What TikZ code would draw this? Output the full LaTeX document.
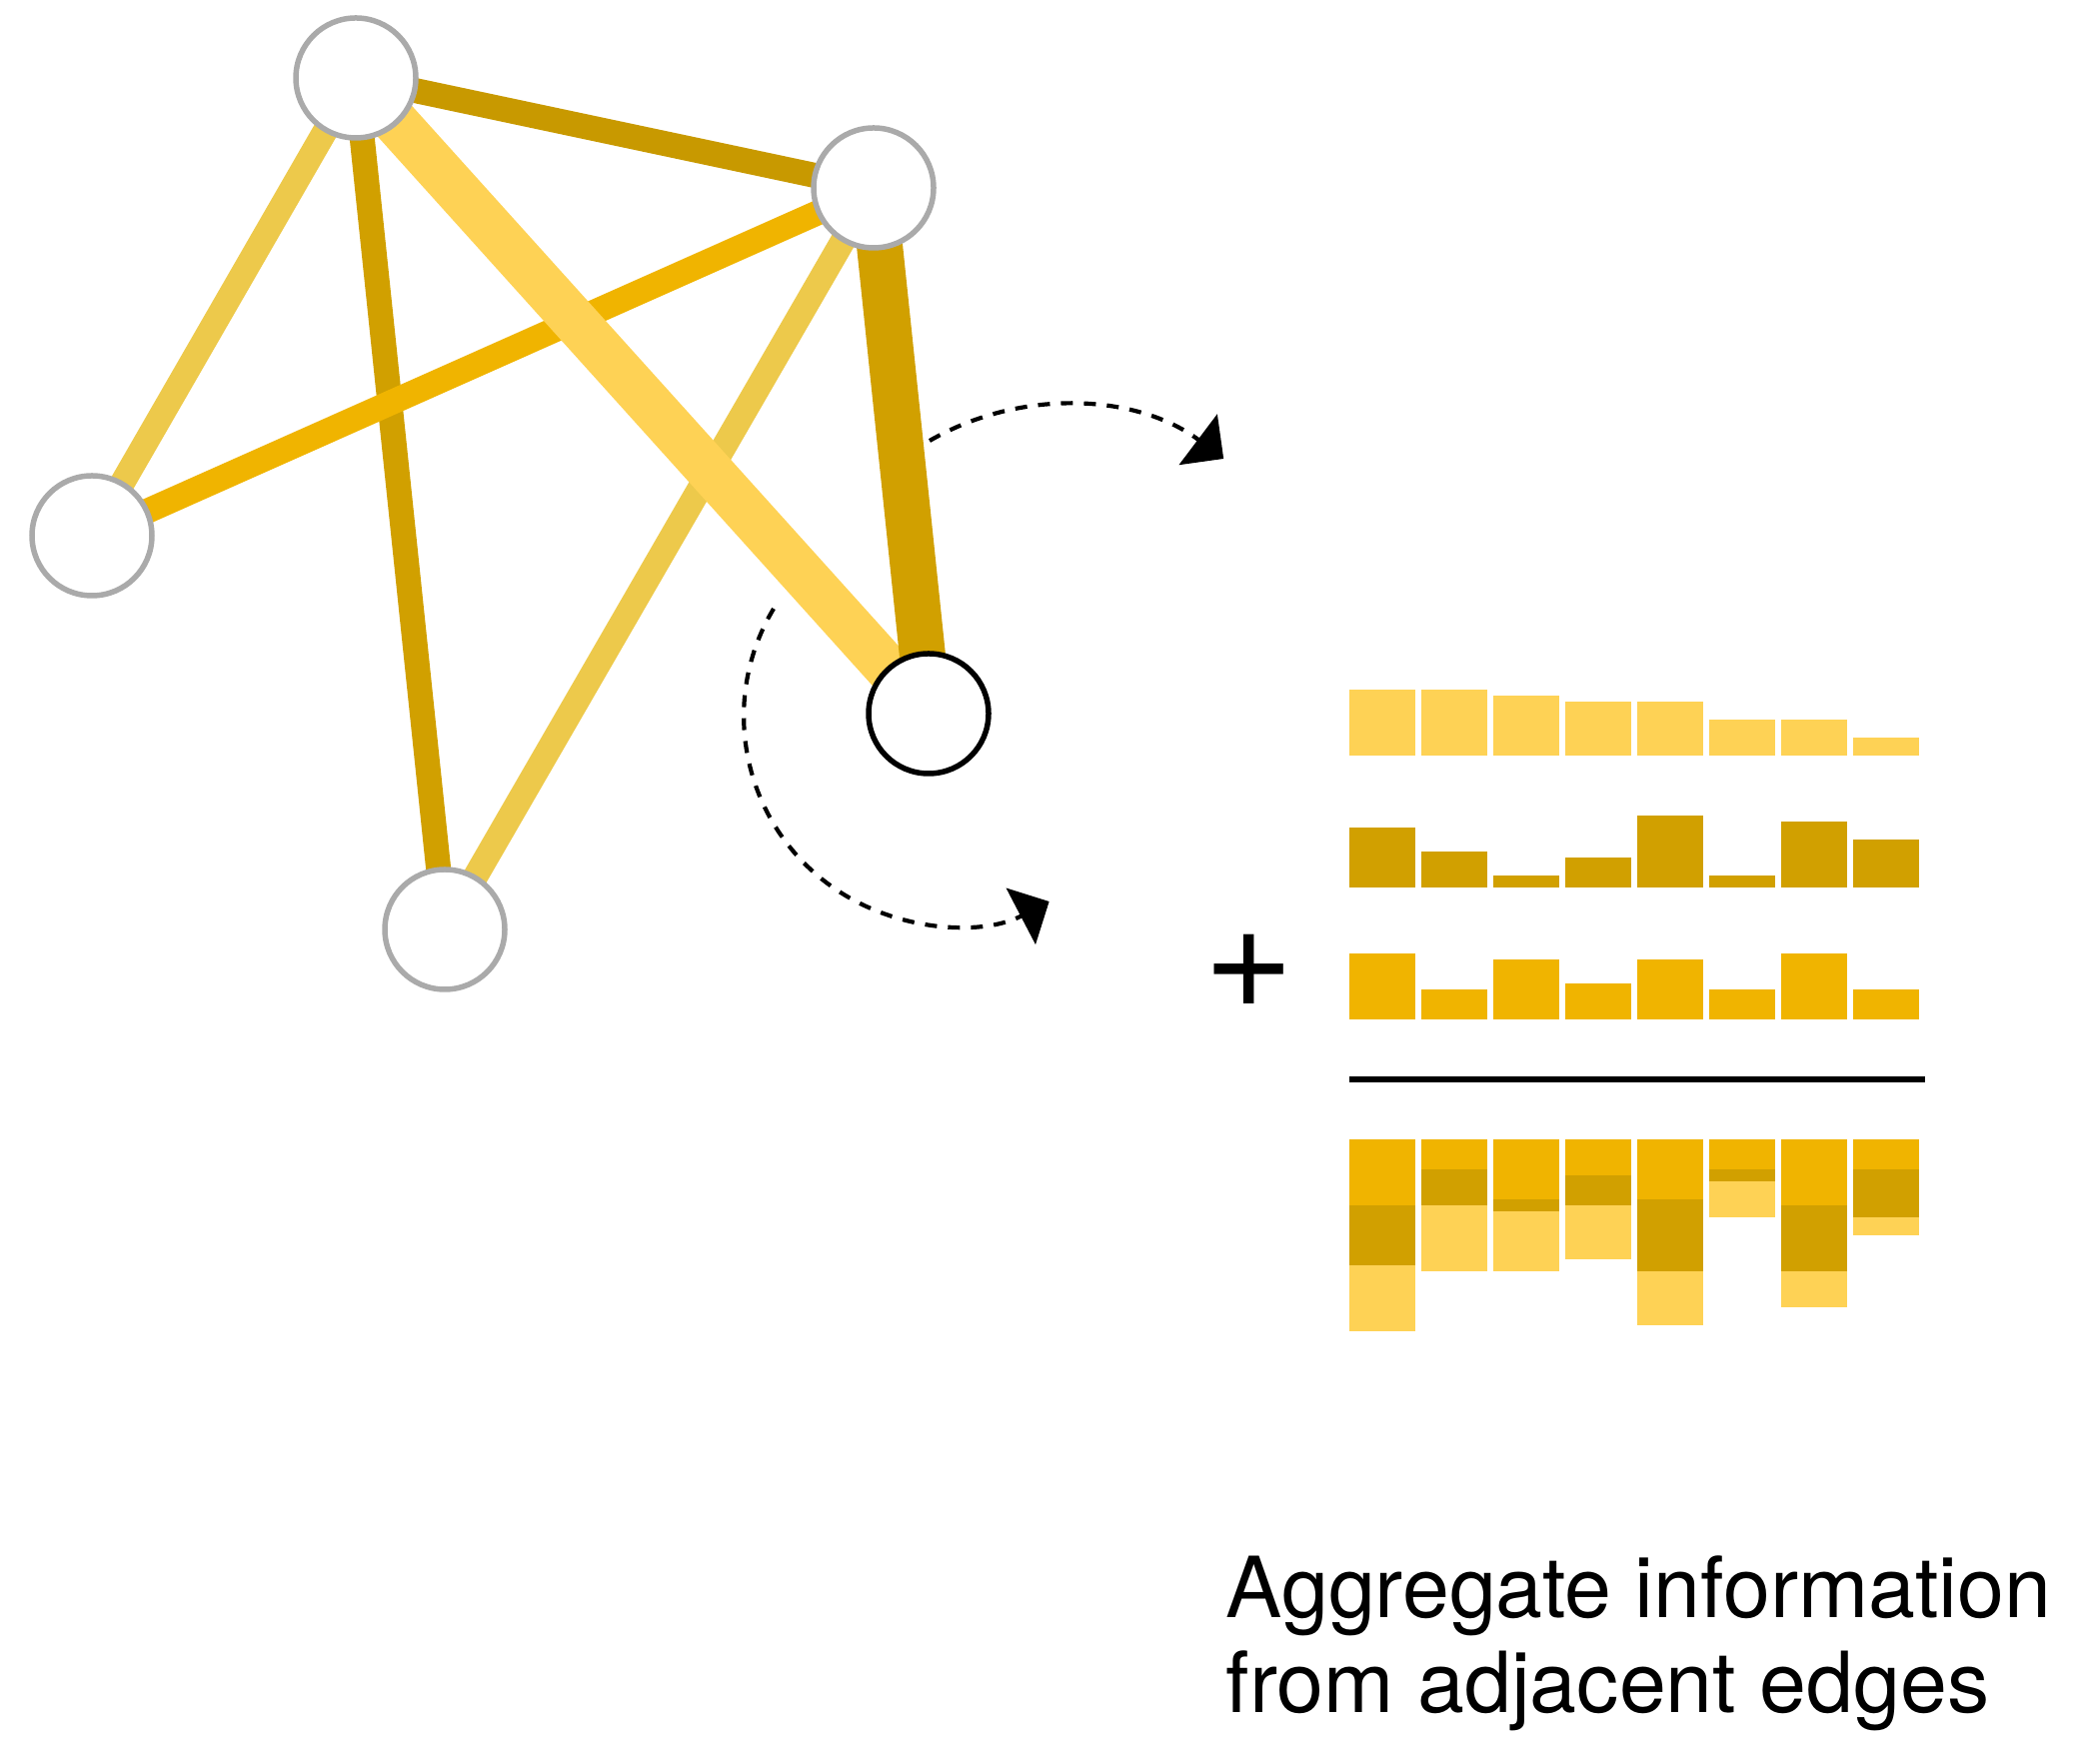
\documentclass[tikz,border=0pt]{standalone}
\usepackage{fontspec}
\setmainfont{TeX Gyre Heros}
\usetikzlibrary{arrows.meta, backgrounds}

\definecolor{paleedge}{HTML}{FED255}
\definecolor{darkedge}{HTML}{D1A000}
\definecolor{midedge}{HTML}{F0B400}
\definecolor{mustard}{HTML}{EDC94B}
\definecolor{deepgold}{HTML}{C89900}
\definecolor{ringgray}{HTML}{AAAAAA}

\begin{document}
\begin{tikzpicture}[
        vertex/.style={circle, draw=ringgray, fill=white, line width=0.055cm, minimum size=1.2cm, inner sep=0pt},
        thinlink/.style={line width=0.25cm},
        thicklink/.style={line width=0.46cm},
        flow/.style={-{Triangle[length=0.32cm, width=0.63cm]}, line width=0.042cm, dash pattern=on 0.12cm off 0.11cm}]
    \useasboundingbox (0,0) rectangle (20.88,17.64);

    % graph
    \node (top) [vertex] at (3.56,16.86) {};
    \node (mid) [vertex] at (8.74,15.76) {};
    \node (left) [vertex] at (0.92,12.28) {};
    \node (low) [vertex] at (4.45,8.34) {};
    \node (focus) [vertex, draw=black] at (9.29,10.50) {};

    \begin{scope}[on background layer]
        \draw [thinlink, darkedge] (top.center) -- (low.center);
        \draw [thinlink, midedge] (mid.center) -- (left.center);
        \draw [thinlink, mustard] (mid.center) -- (low.center);
        \draw [thinlink, mustard] (top.center) -- (left.center);
        \draw [thinlink, deepgold] (top.center) -- (mid.center);
        \draw [thicklink, paleedge] (top.center) -- (focus.center);
        \draw [thicklink, darkedge] (mid.center) -- (focus.center);
    \end{scope}

    % dashed arrows round the focus node
    \coordinate (out) at (9.30,13.23);
    \coordinate (back) at (7.74,11.55);
    \draw [flow] (out) arc[start angle=120, end angle=53, radius=2.67];
    \draw [flow] (back) arc[start angle=149, end angle=297.5, radius=2.09];

    % edge features and their sum
    \foreach \p/\d/\m [count=\i from 0] in {11/10/11, 11/6/5, 10/2/10, 9/5/6, 9/12/10, 6/2/5, 6/11/11, 3/8/5} {
        \fill [paleedge] (13.50+0.72*\i, 10.08) rectangle ++(0.66, 0.06*\p);
        \fill [darkedge] (13.50+0.72*\i, 8.76) rectangle ++(0.66, 0.06*\d);
        \fill [midedge] (13.50+0.72*\i, 7.44) rectangle ++(0.66, 0.06*\m);
        \fill [midedge] (13.50+0.72*\i, 6.24) rectangle ++(0.66, -0.06*\m);
        \fill [darkedge] (13.50+0.72*\i, 6.24-0.06*\m) rectangle ++(0.66, -0.06*\d);
        \fill [paleedge] (13.50+0.72*\i, 6.24-0.06*\m-0.06*\d) rectangle ++(0.66, -0.06*\p);
    }
    \draw [line width=0.055cm] (13.50,6.84) -- (19.26,6.84);

    \node (plus) at (12.495,7.92) {\fontsize{44}{44}\selectfont +};
    \node (caption) [anchor=base west, align=left, inner sep=0pt, font=\fontsize{24}{27}\selectfont] at (12.26,0.51) {Aggregate information\\from adjacent edges};
\end{tikzpicture}
\end{document}
